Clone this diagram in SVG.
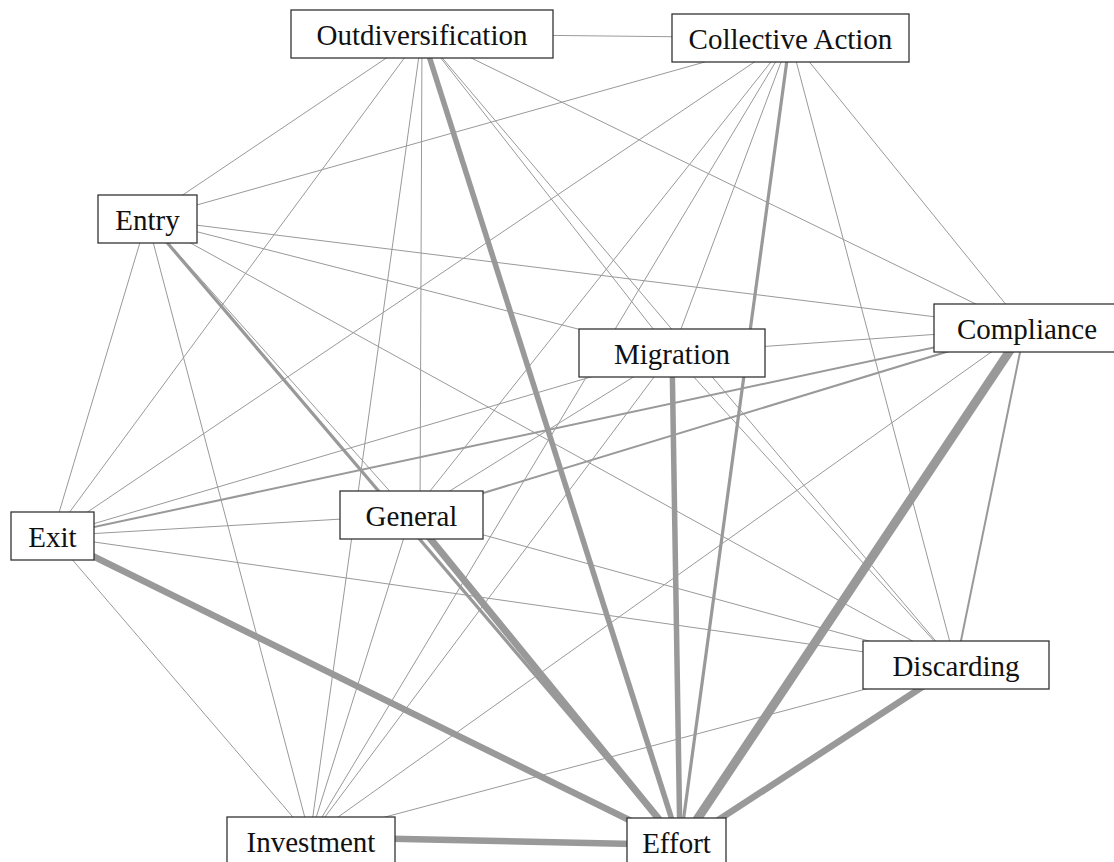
<svg xmlns="http://www.w3.org/2000/svg" width="1114" height="862" viewBox="0 0 1114 862">
  <style>
    .edge { stroke: #999999; fill: none; stroke-linecap: butt; }
    .w1 { stroke-width: 1; }
    .w2 { stroke-width: 2; }
    .w3 { stroke-width: 3.2; }
    .w5 { stroke-width: 5.5; }
    .w6 { stroke-width: 6.5; }
    .w7 { stroke-width: 7; }
    .w9 { stroke-width: 9; }
    .box { fill: #ffffff; stroke: #333333; stroke-width: 1.3; }
    .label { font-size: 29px; fill: #111111; text-anchor: middle; }
  </style>
  <rect width="1114" height="862" fill="#ffffff"/>

  <!-- links between topics; stroke width shows strength -->
  <g id="connectors">
    <!-- Outdiversification (422,34) -->
    <line class="edge w1" x1="422" y1="34" x2="790" y2="38"/>
    <line class="edge w1" x1="422" y1="34" x2="147" y2="219"/>
    <line class="edge w1" x1="422" y1="34" x2="1025" y2="328"/>
    <line class="edge w1" x1="422" y1="34" x2="672" y2="353"/>
    <line class="edge w1" x1="422" y1="34" x2="420" y2="515"/>
    <line class="edge w1" x1="422" y1="34" x2="52" y2="536"/>
    <line class="edge w1" x1="422" y1="34" x2="956" y2="665"/>
    <line class="edge w1" x1="422" y1="34" x2="310" y2="837"/>
    <!-- Collective Action (790,38) -->
    <line class="edge w1" x1="790" y1="38" x2="147" y2="219"/>
    <line class="edge w1" x1="790" y1="38" x2="1025" y2="328"/>
    <line class="edge w1" x1="790" y1="38" x2="672" y2="353"/>
    <line class="edge w1" x1="790" y1="38" x2="411" y2="515"/>
    <line class="edge w1" x1="790" y1="38" x2="52" y2="536"/>
    <line class="edge w1" x1="790" y1="38" x2="956" y2="665"/>
    <line class="edge w1" x1="790" y1="38" x2="310" y2="837"/>
    <!-- Entry (147,219) -->
    <line class="edge w1" x1="147" y1="219" x2="1025" y2="328"/>
    <line class="edge w1" x1="147" y1="219" x2="672" y2="353"/>
    <line class="edge w1" x1="147" y1="219" x2="411" y2="515"/>
    <line class="edge w1" x1="147" y1="219" x2="52" y2="536"/>
    <line class="edge w1" x1="147" y1="219" x2="956" y2="665"/>
    <line class="edge w1" x1="147" y1="219" x2="310" y2="837"/>
    <!-- Compliance (1025,328) -->
    <line class="edge w1" x1="1025" y1="328" x2="672" y2="353"/>
    <line class="edge w2" x1="1025" y1="328" x2="411" y2="515"/>
    <line class="edge w2" x1="1025" y1="328" x2="52" y2="536"/>
    <line class="edge w2" x1="1025" y1="328" x2="956" y2="665"/>
    <line class="edge w1" x1="1025" y1="328" x2="310" y2="837"/>
    <!-- Migration (672,353) -->
    <line class="edge w1" x1="672" y1="353" x2="411" y2="515"/>
    <line class="edge w1" x1="672" y1="353" x2="52" y2="536"/>
    <line class="edge w1" x1="672" y1="353" x2="956" y2="665"/>
    <line class="edge w1" x1="672" y1="353" x2="310" y2="837"/>
    <!-- General (411,515) -->
    <line class="edge w1" x1="411" y1="515" x2="52" y2="536"/>
    <line class="edge w1" x1="411" y1="515" x2="956" y2="665"/>
    <line class="edge w1" x1="411" y1="515" x2="310" y2="837"/>
    <!-- Exit (52,536) -->
    <line class="edge w1" x1="52" y1="536" x2="956" y2="665"/>
    <line class="edge w1" x1="52" y1="536" x2="310" y2="837"/>
    <!-- Discarding (956,665) -->
    <line class="edge w1" x1="956" y1="665" x2="310" y2="837"/>
    <!-- links into Effort (680,845) -->
    <line class="edge w5" x1="422" y1="34" x2="680" y2="845"/>
    <line class="edge w3" x1="790" y1="38" x2="680" y2="845"/>
    <line class="edge w3" x1="147" y1="219" x2="680" y2="845"/>
    <line class="edge w9" x1="1025" y1="328" x2="680" y2="845"/>
    <line class="edge w5" x1="672" y1="353" x2="680" y2="845"/>
    <line class="edge w7" x1="411" y1="515" x2="680" y2="845"/>
    <line class="edge w6" x1="52" y1="536" x2="680" y2="845"/>
    <line class="edge w6" x1="956" y1="665" x2="680" y2="845"/>
    <line class="edge w6" x1="310" y1="837" x2="680" y2="845"/>
  </g>

  <g id="nodes" font-family="'Liberation Serif', Tinos, 'Times New Roman', 'DejaVu Serif', serif">
    <g id="node-outdiversification">
      <rect class="box" x="291" y="10" width="262" height="48"/>
      <text class="label" x="422" y="45">Outdiversification</text>
    </g>
    <g id="node-collective-action">
      <rect class="box" x="672" y="14" width="237" height="48"/>
      <text class="label" x="790.5" y="49">Collective Action</text>
    </g>
    <g id="node-entry">
      <rect class="box" x="98" y="195" width="99" height="48"/>
      <text class="label" x="147.5" y="230">Entry</text>
    </g>
    <g id="node-compliance">
      <rect class="box" x="934" y="304" width="190" height="48"/>
      <text class="label" x="1027" y="339">Compliance</text>
    </g>
    <g id="node-migration">
      <rect class="box" x="579" y="329" width="186" height="48"/>
      <text class="label" x="672" y="364">Migration</text>
    </g>
    <g id="node-general">
      <rect class="box" x="340" y="491" width="143" height="48"/>
      <text class="label" x="411.5" y="526">General</text>
    </g>
    <g id="node-exit">
      <rect class="box" x="11" y="512" width="83" height="48"/>
      <text class="label" x="52.5" y="547">Exit</text>
    </g>
    <g id="node-discarding">
      <rect class="box" x="863" y="641" width="186" height="48"/>
      <text class="label" x="956" y="676">Discarding</text>
    </g>
    <g id="node-investment">
      <rect class="box" x="227" y="817" width="168" height="60"/>
      <text class="label" x="311" y="852">Investment</text>
    </g>
    <g id="node-effort">
      <rect class="box" x="627" y="818" width="99" height="60"/>
      <text class="label" x="676.5" y="853">Effort</text>
    </g>
  </g>
</svg>
